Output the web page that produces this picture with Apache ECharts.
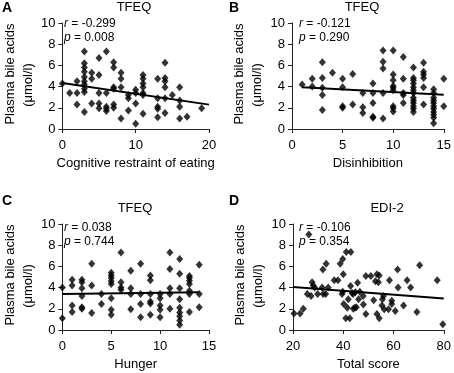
<!DOCTYPE html>
<html>
<head>
<meta charset="utf-8">
<script src="https://cdn.jsdelivr.net/npm/echarts@6/dist/echarts.min.js"></script>
<style>
  html, body { margin: 0; padding: 0; background: #fff; }
  #chart { width: 454px; height: 373px; }
</style>
</head>
<body>
<div id="chart"></div>
<script>
// Panel A: TFEQ cognitive restraint of eating vs plasma bile acids
const restraintPoints = [
  [0, 4.3], [1, 3.4], [2, 4.5], [2, 3.4], [2, 2.3],
  [3, 7.3], [3, 6.2], [3, 5.8], [3, 5.4], [3, 4.9], [3, 4.5], [3, 4.2], [3, 3.8], [3, 3.5], [3, 1.6],
  [4, 5.3], [4, 4.75], [4, 2.4],
  [5, 6.7], [5, 5.1], [5, 3.4], [5, 2.4], [5, 1.95],
  [6, 7.3], [6, 3.4], [6, 2.1], [6, 1.9], [6, 1.7],
  [7, 6.3], [7, 5.8], [7, 3.95], [7, 3.8], [7, 2.3], [7, 2.0],
  [8, 5.3], [8, 4.75], [8, 3.95], [8, 1.0],
  [9, 3.2], [9, 2.9], [9, 1.75],
  [10, 3.7], [10, 3.4], [10, 2.4], [10, 0.5],
  [11, 5.1], [11, 4.75], [11, 4.3], [11, 3.95], [11, 3.4], [11, 3.2], [11, 1.45],
  [13, 4.75], [13, 2.9], [13, 2.1], [13, 1.9], [13, 1.1],
  [14, 6.25], [14, 4.8], [14, 4.5], [14, 3.95], [14, 2.9], [14, 1.5],
  [15, 3.2], [16, 3.95], [16, 2.7], [16, 2.1], [16, 1.0], [17, 1.15], [19, 1.95]
];
const restraintFit = [[0, 4.33], [20, 2.3]];

// Panel B: TFEQ disinhibition
const disinhibitionPoints = [
  [1, 4.2], [2, 4.75], [2, 4.0],
  [3, 6.3], [3, 4.8], [3, 3.9], [3, 3.2], [3, 1.8],
  [4, 5.3],
  [5, 4.75], [5, 3.95], [5, 2.15], [5, 2.0],
  [6, 5.2], [6, 2.3],
  [7, 3.4], [7, 2.05], [7, 1.5],
  [8, 4.3], [8, 3.4], [8, 2.45], [8, 1.15], [8, 1.05],
  [9, 7.4], [9, 6.35], [9, 5.7], [9, 3.4], [9, 1.0],
  [10, 7.4], [10, 5.15], [10, 4.6], [10, 4.05], [10, 3.9], [10, 3.65], [10, 2.15], [10, 1.95], [10, 1.65],
  [11, 6.8], [11, 4.75], [11, 3.4], [11, 3.2], [11, 2.45],
  [12, 5.8], [12, 4.8], [12, 4.6], [12, 4.3], [12, 3.95], [12, 3.65], [12, 3.4], [12, 2.95], [12, 2.7],
  [12, 2.45], [12, 2.15], [12, 1.9], [12, 1.6],
  [13, 6.25], [13, 5.4], [13, 5.15], [13, 4.8], [13, 3.95], [13, 2.3],
  [14, 3.75], [14, 3.4], [14, 2.95], [14, 2.7], [14, 2.45], [14, 2.15], [14, 1.9], [14, 1.6], [14, 1.35],
  [14, 1.05], [14, 0.55],
  [15, 4.75], [15, 2.15]
];
const disinhibitionFit = [[1, 3.95], [15, 3.22]];

// Panel C: TFEQ hunger
const hungerPoints = [
  [0, 4.0], [0, 1.1],
  [1, 4.75], [1, 4.2], [1, 2.3], [1, 1.7],
  [2, 4.75], [2, 4.5], [2, 3.95], [2, 3.2], [2, 2.15], [2, 2.0],
  [3, 6.25], [3, 4.2], [3, 1.6],
  [4, 3.4], [4, 2.45],
  [5, 5.4], [5, 5.15], [5, 4.9], [5, 4.6], [5, 4.35], [5, 3.0], [5, 1.9], [5, 1.45],
  [6, 7.3], [6, 4.5], [6, 4.0], [6, 3.8],
  [7, 5.6], [7, 3.95], [7, 3.4], [7, 1.95],
  [8, 6.25], [8, 3.4], [8, 2.45], [8, 1.2],
  [9, 5.15], [9, 4.7], [9, 3.4], [9, 2.7], [9, 2.5], [9, 1.45],
  [10, 3.4], [10, 3.0], [10, 2.3], [10, 1.9], [10, 1.2],
  [11, 7.3], [11, 5.75], [11, 3.95], [11, 3.4], [11, 2.0],
  [12, 6.7], [12, 5.3], [12, 3.95], [12, 2.9], [12, 2.1], [12, 1.65], [12, 1.3], [12, 0.9], [12, 0.5],
  [13, 5.1], [13, 4.9], [13, 4.65], [13, 4.35], [13, 3.7], [13, 3.4], [13, 1.7],
  [14, 6.15], [14, 3.4], [14, 2.15]
];
const hungerFit = [[0, 3.4], [14, 3.57]];

// Panel D: EDI-2 total score
const ediPoints = [
  [20.4, 1.55], [22.8, 1.55], [24.1, 2.0], [25.7, 3.4], [26.3, 9.0], [27.2, 3.2],
  [27.6, 4.5], [28, 4.2], [28.6, 4.0], [29.8, 3.4], [31.6, 4.0], [31.9, 5.7],
  [33.2, 6.25], [32, 3.4], [33, 3.4], [34, 4.0], [36.4, 4.7], [37.9, 4.7],
  [38.8, 6.25], [39.8, 6.7], [41.2, 7.35], [43, 7.35], [39.5, 3.4], [39.8, 3.6],
  [40, 5.25], [40.2, 2.45], [41, 1.1], [41.6, 2.1], [42, 2.9], [42.6, 1.1],
  [42.9, 4.15], [43.5, 3.5], [43.9, 3.4], [44.8, 3.55], [44, 2.0], [44.6, 2.1],
  [45.2, 2.15], [45.7, 4.45], [46.1, 2.9], [46.6, 3.6], [47.9, 3.2], [48, 2.4],
  [49, 1.5], [49, 5.1], [51, 5.1], [52.1, 2.8], [52.8, 4.6], [53.4, 5.25],
  [54.3, 5.15], [54, 4.5], [53.4, 1.5], [54.3, 1.1], [55.4, 2.3], [55.6, 2.9],
  [56, 3.2], [56.3, 1.95], [58, 1.95], [59.3, 2.75], [58.4, 4.7], [59.3, 2.45],
  [60.7, 1.8], [61.6, 5.7], [61.8, 4.0], [64, 2.3], [65.4, 4.7], [66.8, 4.0],
  [69.3, 1.7], [70.4, 6.1], [77.4, 4.7], [79.6, 0.55]
];
const ediFit = [[20, 4.06], [80, 2.97]];

const yTicks = { min: 0, max: 10, interval: 2 };
const FONT = 'Liberation Sans, Arial, sans-serif';

const panels = [
  { letter: 'A', title: 'TFEQ', titleX: 134, r: '-0.299', p: '0.008', xName: 'Cognitive restraint of eating',
    xMin: 0, xMax: 20, xInt: 10, points: restraintPoints, fit: restraintFit,
    grid: { left: 58, top: 23, width: 151, height: 106 }, letterPos: [2, 1], statPos: [64, 17] },
  { letter: 'B', title: 'TFEQ', titleX: 362, r: '-0.121', p: '0.290', xName: 'Disinhibition',
    xMin: 0, xMax: 15, xInt: 5, points: disinhibitionPoints, fit: disinhibitionFit,
    grid: { left: 292, top: 23, width: 153, height: 106 }, letterPos: [229, 1], statPos: [299, 17] },
  { letter: 'C', title: 'TFEQ', titleX: 135, r: '0.038', p: '0.744', xName: 'Hunger',
    xMin: 0, xMax: 15, xInt: 5, points: hungerPoints, fit: hungerFit,
    grid: { left: 58, top: 224, width: 151, height: 106 }, letterPos: [2, 194], statPos: [64, 221] },
  { letter: 'D', title: 'EDI-2', titleX: 387, r: '-0.106', p: '0.354', xName: 'Total score',
    xMin: 20, xMax: 80, xInt: 20, points: ediPoints, fit: ediFit,
    grid: { left: 293, top: 224, width: 152, height: 106 }, letterPos: [229, 194], statPos: [299, 221] }
];

const axisLine = { show: true, lineStyle: { color: '#222', width: 1 } };
const axisTick = { show: true, length: 4, inside: false, lineStyle: { color: '#222' } };

const option = {
  animation: false,
  backgroundColor: '#fff',
  textStyle: { fontFamily: FONT },
  title: [],
  grid: [],
  xAxis: [],
  yAxis: [],
  series: []
};

panels.forEach((pn, i) => {
  option.grid.push(Object.assign({ containLabel: false }, pn.grid));
  option.xAxis.push({
    gridIndex: i, type: 'value', min: pn.xMin, max: pn.xMax, interval: pn.xInt,
    name: pn.xName, nameLocation: 'middle', nameGap: 28,
    nameTextStyle: { color: '#000', fontSize: 13, fontFamily: FONT },
    axisLine, axisTick, splitLine: { show: false },
    axisLabel: { color: '#000', fontSize: 13, margin: 10, fontFamily: FONT }
  });
  option.yAxis.push({
    gridIndex: i, type: 'value', min: yTicks.min, max: yTicks.max, interval: yTicks.interval,
    name: '{a|Plasma bile acids}\n{b|(μmol/l)}', nameLocation: 'middle', nameRotate: 90, nameGap: 22,
    nameTextStyle: {
      color: '#000', fontSize: 13, lineHeight: 18, fontFamily: FONT, align: 'center',
      rich: {
        a: { fontSize: 13, lineHeight: 18, color: '#000', fontFamily: FONT, padding: [0, 0, 0, 4] },
        b: { fontSize: 13, lineHeight: 18, color: '#000', fontFamily: FONT, padding: [0, 18, 0, 0] }
      }
    },
    axisLine, axisTick, splitLine: { show: false },
    axisLabel: { color: '#000', fontSize: 13, margin: 7, fontFamily: FONT }
  });
  option.series.push({
    type: 'scatter', xAxisIndex: i, yAxisIndex: i, symbol: 'diamond', symbolSize: [7, 8],
    itemStyle: { color: '#000' }, data: pn.points
  });
  option.series.push({
    type: 'line', xAxisIndex: i, yAxisIndex: i, symbol: 'none', silent: true,
    lineStyle: { color: '#000', width: 2 }, data: pn.fit
  });
  option.title.push({
    text: pn.title, left: pn.titleX, top: pn.grid.top - 22, textAlign: 'center', padding: 0,
    textStyle: { fontSize: 13, fontWeight: 'normal', color: '#000', fontFamily: FONT }
  });
  option.title.push({
    text: pn.letter, left: pn.letterPos[0], top: pn.letterPos[1], padding: 0,
    textStyle: { fontSize: 14, fontWeight: 'bold', color: '#000', fontFamily: FONT }
  });
  option.title.push({
    text: '{i|r} = ' + pn.r + '\n{i|p} = ' + pn.p,
    left: pn.statPos[0], top: pn.statPos[1], padding: 0,
    textStyle: {
      fontSize: 12, fontWeight: 'normal', color: '#000', lineHeight: 14, fontFamily: FONT,
      rich: { i: { fontStyle: 'italic', fontSize: 12, color: '#000', fontFamily: FONT, lineHeight: 14 } }
    }
  });
});

const chart = echarts.init(document.getElementById('chart'));
chart.setOption(option);
</script>
</body>
</html>
